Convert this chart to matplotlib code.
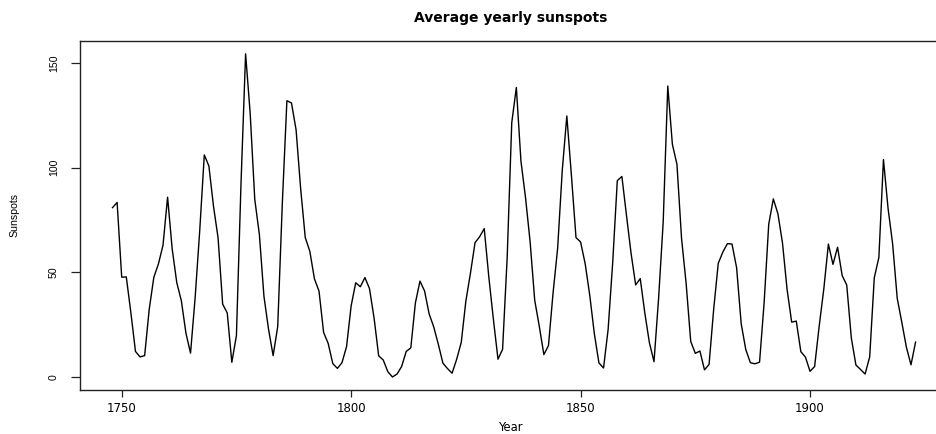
import matplotlib
matplotlib.use("Agg")
import matplotlib.pyplot as plt

# yearly sunspot means, first point drawn at 1748 as in the reference
start_year = 1748
sunspots = [
    80.9, 83.4, 47.7, 47.8, 30.7, 12.2, 9.6, 10.2, 32.4, 47.6,
    54.0, 62.9, 85.9, 61.2, 45.1, 36.4, 20.9, 11.4, 37.8, 69.8,
    106.1, 100.8, 81.6, 66.5, 34.8, 30.6, 7.0, 19.8, 92.5, 154.4,
    125.9, 84.8, 68.1, 38.5, 22.8, 10.2, 24.1, 82.9, 132.0, 130.9,
    118.1, 89.9, 66.6, 60.0, 46.9, 41.0, 21.3, 16.0, 6.4, 4.1,
    6.8, 14.5, 34.0, 45.0, 43.1, 47.5, 42.2, 28.1, 10.1, 8.1,
    2.5, 0.0, 1.4, 5.0, 12.2, 13.9, 35.4, 45.8, 41.1, 30.1,
    23.9, 15.6, 6.6, 4.0, 1.8, 8.5, 16.6, 36.3, 49.6, 64.2,
    67.0, 70.9, 47.8, 27.5, 8.5, 13.2, 56.9, 121.5, 138.3, 103.2,
    85.7, 64.6, 36.7, 24.2, 10.7, 15.0, 40.1, 61.5, 98.5, 124.7,
    96.3, 66.6, 64.5, 54.1, 39.0, 20.6, 6.7, 4.3, 22.7, 54.8,
    93.8, 95.8, 77.2, 59.1, 44.0, 47.0, 30.5, 16.3, 7.3, 37.6,
    74.0, 139.0, 111.2, 101.6, 66.2, 44.7, 17.0, 11.3, 12.4, 3.4,
    6.0, 32.3, 54.3, 59.7, 63.7, 63.5, 52.2, 25.4, 13.1, 6.8,
    6.3, 7.1, 35.6, 73.0, 85.1, 78.0, 64.0, 41.8, 26.2, 26.7,
    12.1, 9.5, 2.7, 5.0, 24.4, 42.0, 63.5, 53.8, 62.0, 48.5,
    43.9, 18.6, 5.7, 3.6, 1.4, 9.6, 47.4, 57.1, 103.9, 80.6,
    63.6, 37.6, 26.1, 14.2, 5.8, 16.7,
]
years = list(range(start_year, start_year + len(sunspots)))
x_ticks = [1750, 1800, 1850, 1900]
y_ticks = [0, 50, 100, 150]

# the reference looks stretched sideways: wide font for flat text,
# narrow one for the rotated text
wide = ['DejaVu Sans']
narrow = ['Liberation Sans', 'DejaVu Sans']
ink = '#222222'

W, H = 936, 434
fig = plt.figure(figsize=(W / 100, H / 100), dpi=100)
left, right, top, bottom = 80.4, 947.7, 40.9, 389.9
ax = fig.add_axes([left / W, 1 - bottom / H, (right - left) / W, (bottom - top) / H])

ax.plot(years, sunspots, color='black', lw=1.0)

# R style 4% padding
xr = years[-1] - years[0]
ax.set_xlim(years[0] - 0.04 * xr, years[-1] + 0.04 * xr)
yr = max(sunspots) - min(sunspots)
ax.set_ylim(min(sunspots) - 0.04 * yr, max(sunspots) + 0.04 * yr)

ax.set_xticks(x_ticks)
ax.set_xticklabels([str(v) for v in x_ticks], fontfamily=wide, fontsize=8.5)
ax.set_yticks(y_ticks)
ax.set_yticklabels([str(v) for v in y_ticks], fontfamily=narrow, fontsize=7.6)
ax.tick_params(axis='x', direction='out', length=4.7, width=0.9, color=ink, pad=4)
ax.tick_params(axis='y', direction='out', length=6.5, width=0.9, color=ink, pad=9, labelrotation=90)
for lab in ax.get_yticklabels():
    lab.set_va('center')

for side in ['left', 'bottom', 'top', 'right']:
    ax.spines[side].set_linewidth(1.0)
    ax.spines[side].set_color(ink)

cx = 0.5 * (left + right) / W
fig.text(cx - 3 / W, 1 - 22.3 / H, 'Average yearly sunspots', ha='center', va='baseline',
         fontsize=10, fontweight='bold', family=wide)
fig.text(cx - 3 / W, 1 - 431 / H, 'Year', ha='center', va='baseline', fontsize=8.3, family=wide)
fig.text(14.5 / W, 1 - 215 / H, 'Sunspots', ha='center', va='center', fontsize=7.6,
         rotation=90, family=narrow)

fig.savefig('out.png', dpi=100)
